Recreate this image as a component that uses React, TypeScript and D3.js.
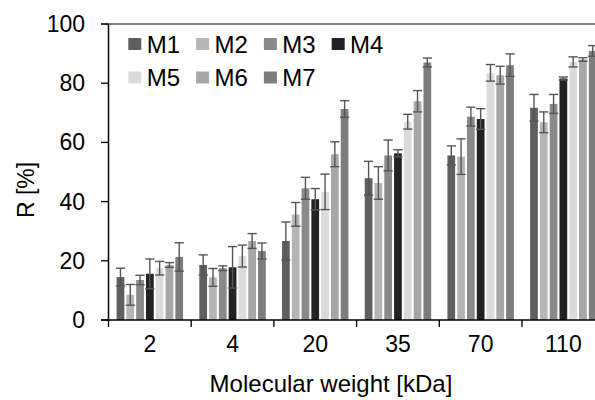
import React from "react";
import * as d3 from "d3";

const categories = ["2", "4", "20", "35", "70", "110"];
const seriesNames = ["M1", "M2", "M3", "M4", "M5", "M6", "M7"];
const seriesColors = ["#5f5f5f", "#b5b5b5", "#8a8a8a", "#222222", "#dbdbdb", "#a7a7a7", "#7d7d7d"];

const m1 = [14.5, 18.6, 26.7, 47.9, 55.6, 71.7];
const m2 = [8.5, 14.4, 35.7, 46.3, 55.2, 66.8];
const m3 = [13.5, 17.5, 44.5, 55.6, 68.7, 73.0];
const m4 = [15.6, 17.8, 40.8, 56.3, 67.9, 81.6];
const m5 = [17.5, 21.6, 43.3, 67.0, 83.5, 87.2];
const m6 = [18.6, 26.7, 56.0, 73.9, 82.7, 88.0];
const m7 = [21.3, 23.3, 71.3, 87.0, 86.1, 90.9];

const e1 = [3.0, 3.4, 6.4, 5.7, 3.2, 4.5];
const e2 = [3.5, 3.0, 4.0, 5.5, 6.0, 3.5];
const e3 = [1.6, 0.8, 3.7, 5.2, 3.2, 3.2];
const e4 = [5.0, 7.0, 3.6, 1.2, 3.5, 0.5];
const e5 = [2.3, 3.7, 6.0, 2.5, 2.8, 1.7];
const e6 = [0.8, 2.5, 4.2, 3.6, 3.0, 0.6];
const e7 = [4.8, 2.7, 2.8, 1.5, 3.8, 1.8];

const yTicks = [0, 20, 40, 60, 80, 100];

const values = [m1, m2, m3, m4, m5, m6, m7];
const errors = [e1, e2, e3, e4, e5, e6, e7];

const W = 595;
const H = 400;
const left = 108.5;
const top = 24;
const bottom = 320;
const font = "'Liberation Sans', Arial, sans-serif";

export default function App() {
  const x = d3.scaleBand().domain(categories).range([left, left + 6 * 82.7]);
  const xs = d3
    .scaleBand()
    .domain(seriesNames)
    .range([0, x.bandwidth()])
    .paddingInner(0.21)
    .paddingOuter(0.83);
  const y = d3.scaleLinear().domain([0, 100]).range([bottom, top]);
  const bw = xs.bandwidth();
  const cap = bw + 1.5;

  const bars: JSX.Element[] = [];
  const errs: JSX.Element[] = [];
  seriesNames.forEach((s, si) => {
    categories.forEach((c, ci) => {
      const v = values[si][ci];
      const e = errors[si][ci];
      const bx = (x(c) as number) + (xs(s) as number);
      bars.push(
        <rect key={`b-${s}-${c}`} x={bx} y={y(v)} width={bw} height={y(0) - y(v)} fill={seriesColors[si]} />
      );
      const cx = bx + bw / 2;
      errs.push(
        <g key={`e-${s}-${c}`} stroke="#555" strokeWidth={1.4}>
          <line x1={cx} x2={cx} y1={y(v + e)} y2={y(v - e)} />
          <line x1={cx - cap / 2} x2={cx + cap / 2} y1={y(v + e)} y2={y(v + e)} />
          <line x1={cx - cap / 2} x2={cx + cap / 2} y1={y(v - e)} y2={y(v - e)} />
        </g>
      );
    });
  });

  return (
    <svg
      width={W}
      height={H}
      style={{ position: "absolute", left: 0, top: 0, background: "#fff" }}
      fontFamily={font}
    >
      {/* top border */}
      <line x1={101} x2={W} y1={y(100)} y2={y(100)} stroke="#5a5a5a" strokeWidth={1.5} />

      {bars}
      {errs}

      {/* y axis */}
      <line x1={left} x2={left} y1={top} y2={bottom} stroke="#000" strokeWidth={1.5} />
      {yTicks.map((t) => (
        <g key={`yt-${t}`}>
          <line x1={101} x2={left} y1={y(t)} y2={y(t)} stroke="#000" strokeWidth={1.3} />
          <text x={85} y={y(t)} dy="0.35em" textAnchor="end" fontSize={23} fill="#000">
            {t}
          </text>
        </g>
      ))}

      {/* x axis */}
      <line x1={101} x2={W} y1={bottom} y2={bottom} stroke="#000" strokeWidth={1.5} />
      {categories.map((c) => (
        <g key={`xt-${c}`}>
          <line x1={x(c) as number} x2={x(c) as number} y1={bottom} y2={bottom + 7} stroke="#000" strokeWidth={1.3} />
          <text x={(x(c) as number) + x.bandwidth() / 2} y={352} textAnchor="middle" fontSize={23} fill="#000">
            {c}
          </text>
        </g>
      ))}

      <text x={331} y={392} textAnchor="middle" fontSize={24} fill="#000">
        Molecular weight [kDa]
      </text>
      <text transform="translate(26,190) rotate(-90)" dy="0.35em" textAnchor="middle" fontSize={23} fill="#000">
        R [%]
      </text>

      {/* legend */}
      {seriesNames.map((s, i) => {
        const row = i < 4 ? 0 : 1;
        const col = i < 4 ? i : i - 4;
        const lx = 128.3 + col * 67.8;
        const ly = 44 + row * 33.5;
        return (
          <g key={`lg-${s}`}>
            <rect x={lx} y={ly - 6} width={13} height={12} fill={seriesColors[i]} />
            <text x={lx + 18.4} y={ly} dy="0.36em" fontSize={24} fill="#000">
              {s}
            </text>
          </g>
        );
      })}
    </svg>
  );
}
